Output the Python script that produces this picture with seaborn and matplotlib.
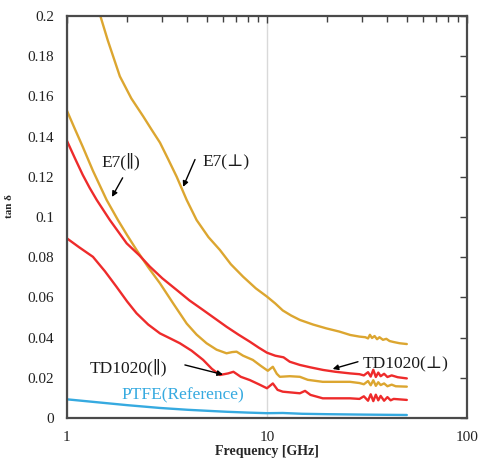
import numpy as np
import pandas as pd
import matplotlib
matplotlib.use("Agg")
import matplotlib.pyplot as plt
import seaborn as sns
from matplotlib.ticker import FixedLocator, FuncFormatter, LogLocator, NullFormatter

# ---------------- data ----------------
f_e7_perp = [1.45, 1.6, 1.84, 2.1, 2.41, 2.65, 2.92, 3.2, 3.54, 3.97, 4.45, 5.1, 5.82,
             6.6, 7.6, 8.8, 10.0, 11.0, 12.0, 13.2, 14.6, 17.0, 19.8, 23.0, 26.1, 29.0,
             31.0, 32.0, 32.7, 33.5, 34.5, 35.5, 36.5, 38.0, 39.5, 41.0, 43.0, 46.0, 50.0]
v_e7_perp = [0.202, 0.188, 0.170, 0.159, 0.150, 0.1435, 0.137, 0.129, 0.120, 0.1085,
             0.0985, 0.090, 0.0836, 0.0765, 0.0703, 0.0645, 0.0604, 0.057, 0.0535, 0.051,
             0.0488, 0.0465, 0.0446, 0.043, 0.0413, 0.0405, 0.0402, 0.0396, 0.0414, 0.0398,
             0.0408, 0.0392, 0.0402, 0.0389, 0.0394, 0.0383, 0.0378, 0.0372, 0.0368]

f_e7_par = [1.0, 1.1, 1.2, 1.35, 1.58, 1.8, 2.0, 2.23, 2.55, 2.92, 3.4, 3.97, 4.45,
            4.99, 5.6, 6.28, 6.7, 7.05, 7.6, 8.5, 9.3, 10.1, 10.7, 11.2, 11.6, 13.0,
            14.6, 16.0, 19.0, 26.0, 29.0, 30.5, 32.0, 33.0, 34.0, 35.0, 36.0, 37.0,
            38.5, 40.0, 42.0, 44.0, 50.0]
v_e7_par = [0.153, 0.1435, 0.135, 0.123, 0.1085, 0.0985, 0.091, 0.0836, 0.075, 0.067,
            0.057, 0.047, 0.0415, 0.0372, 0.034, 0.0322, 0.0328, 0.033, 0.031, 0.0289,
            0.026, 0.0235, 0.0255, 0.022, 0.0205, 0.0208, 0.0205, 0.019, 0.018, 0.018,
            0.0174, 0.0168, 0.0184, 0.0163, 0.0188, 0.016, 0.0178, 0.0164, 0.0172, 0.0158,
            0.0166, 0.0158, 0.0156]

f_td_perp = [1.0, 1.1, 1.2, 1.3, 1.41, 1.64, 1.99, 2.3, 2.6, 3.0, 3.54, 4.1, 4.8, 5.5,
             6.28, 7.2, 8.2, 9.1, 10.0, 11.0, 12.1, 13.0, 14.6, 16.5, 19.1, 22.0, 26.0,
             29.0, 30.5, 32.0, 33.0, 34.0, 35.0, 36.0, 37.0, 38.5, 40.0, 42.0, 45.0, 50.0]
v_td_perp = [0.138, 0.129, 0.121, 0.1145, 0.1085, 0.0985, 0.0869, 0.081, 0.0753, 0.0695,
             0.0637, 0.0585, 0.0537, 0.0495, 0.0454, 0.0415, 0.038, 0.035, 0.0325, 0.031,
             0.0302, 0.028, 0.0264, 0.0252, 0.0239, 0.023, 0.0222, 0.0218, 0.0212, 0.0228,
             0.0206, 0.0240, 0.0204, 0.0226, 0.0208, 0.0220, 0.0204, 0.0212, 0.0203, 0.0197]

f_td_par = [1.0, 1.15, 1.35, 1.55, 1.77, 2.0, 2.23, 2.55, 2.92, 3.3, 3.67, 4.2, 4.8,
            5.3, 5.82, 6.4, 6.8, 7.4, 8.2, 9.1, 10.0, 10.7, 11.3, 12.0, 14.6, 15.5,
            16.5, 19.0, 26.0, 29.0, 30.5, 32.0, 33.0, 34.0, 35.0, 36.0, 37.0, 38.5,
            40.0, 41.5, 43.0, 50.0]
v_td_par = [0.0894, 0.085, 0.0802, 0.073, 0.0653, 0.058, 0.0521, 0.0465, 0.0421, 0.0395,
            0.0372, 0.0335, 0.0289, 0.0245, 0.0214, 0.0222, 0.023, 0.0205, 0.0189, 0.0168,
            0.0148, 0.0172, 0.014, 0.0131, 0.0123, 0.0135, 0.0115, 0.0098, 0.0098, 0.0095,
            0.0108, 0.0086, 0.0118, 0.0084, 0.0116, 0.0088, 0.0110, 0.0086, 0.0104, 0.0088,
            0.0095, 0.009]

f_ptfe = [1.0, 1.5, 2.0, 2.92, 4.0, 5.0, 6.3, 8.0, 10.0, 12.0, 15.0, 20.0, 30.0, 50.0]
v_ptfe = [0.0093, 0.0076, 0.0064, 0.0050, 0.0041, 0.0036, 0.0031, 0.0027, 0.0024,
          0.0025, 0.0021, 0.0019, 0.0017, 0.0015]

series_names = ["E7(⊥)", "E7(∥)", "TD1020(⊥)", "TD1020(∥)", "PTFE(Reference)"]
series_colors = ["#DCA630", "#DCA630", "#EE2B2B", "#EE2B2B", "#36AAE0"]

x_ticks = [1, 10, 100]
x_tick_labels = ["1", "10", "100"]
y_ticks = [0, 0.02, 0.04, 0.06, 0.08, 0.1, 0.12, 0.14, 0.16, 0.18, 0.2]

# ---------------- build frame ----------------
frames = []
for name, f, v in zip(series_names,
                      [f_e7_perp, f_e7_par, f_td_perp, f_td_par, f_ptfe],
                      [v_e7_perp, v_e7_par, v_td_perp, v_td_par, v_ptfe]):
    frames.append(pd.DataFrame({"freq": f, "tan": v, "series": name}))
df = pd.concat(frames, ignore_index=True)

sns.set_style("white")
plt.rcParams["font.family"] = ["Liberation Serif", "DejaVu Serif"]

fig = plt.figure(figsize=(4.81, 4.59), dpi=100)
ax = fig.add_axes([0.139, 0.0893, 0.832, 0.8758])

sns.lineplot(data=df, x="freq", y="tan", hue="series", hue_order=series_names,
             palette=dict(zip(series_names, series_colors)), estimator=None,
             sort=False, linewidth=1.7, legend=False, ax=ax)
for ln in ax.get_lines():
    ln.set_solid_joinstyle("round")

ax.set_xscale("log")
ax.set_xlim(1, 100)
ax.set_ylim(0, 0.2)

ax.xaxis.set_major_locator(FixedLocator(x_ticks))
ax.xaxis.set_major_formatter(FuncFormatter(lambda v, p: x_tick_labels[x_ticks.index(v)] if v in x_ticks else ""))
ax.xaxis.set_minor_locator(LogLocator(base=10, subs=np.arange(2, 10)))
ax.xaxis.set_minor_formatter(NullFormatter())
ax.yaxis.set_major_locator(FixedLocator(y_ticks))
ax.yaxis.set_major_formatter(FuncFormatter(lambda v, p: "0" if v == 0 else f"{v:g}"))

ax.tick_params(axis="both", which="both", direction="in", top=True, right=True,
               colors="#404040", labelcolor="#222222", labelsize=11)
ax.tick_params(axis="both", which="major", length=5, width=1.0)
ax.tick_params(axis="x", which="minor", length=4, width=1.0)
ax.tick_params(axis="x", which="major", pad=9)
ax.tick_params(axis="y", which="major", pad=9)

for sp in ax.spines.values():
    sp.set_color("#4a4a4a")
    sp.set_linewidth(1.6)

ax.grid(False)
ax.xaxis.grid(True, which="major", color="#d9d9d9", linewidth=1.0)
ax.set_axisbelow(True)

ax.set_xlabel("Frequency [GHz]", fontsize=10, fontweight="bold", labelpad=1)
ax.set_ylabel("tan δ", fontsize=8, fontweight="bold")
ax.yaxis.set_label_coords(-0.132, 0.527)

# ---------------- annotations ----------------
arrow_kw = dict(arrowstyle="-|>", color="black", lw=1.0, mutation_scale=8,
                shrinkA=0, shrinkB=0)
txt_kw = dict(fontsize=12.5, ha="center", va="center", color="#1a1a1a")

ax.text(1.86, 0.1274, "E7(∥)", **txt_kw)
ax.annotate("", xy=(1.68, 0.110), xytext=(1.90, 0.1195), arrowprops=arrow_kw)

ax.text(6.23, 0.1274, "E7(⊥)", **txt_kw)
ax.annotate("", xy=(3.81, 0.115), xytext=(4.37, 0.1286), arrowprops=arrow_kw)

ax.text(2.04, 0.0249, "TD1020(∥)", **txt_kw)
ax.annotate("", xy=(6.03, 0.0216), xytext=(3.89, 0.0264), arrowprops=arrow_kw)

ax.text(49.3, 0.0269, "TD1020(⊥)", **txt_kw)
ax.annotate("", xy=(21.3, 0.0244), xytext=(28.5, 0.0280), arrowprops=arrow_kw)

ax.text(3.8, 0.0114, "PTFE(Reference)", fontsize=12.5, ha="center", va="center",
        color="#36AAE0")

fig.savefig("out.png", dpi=100)
